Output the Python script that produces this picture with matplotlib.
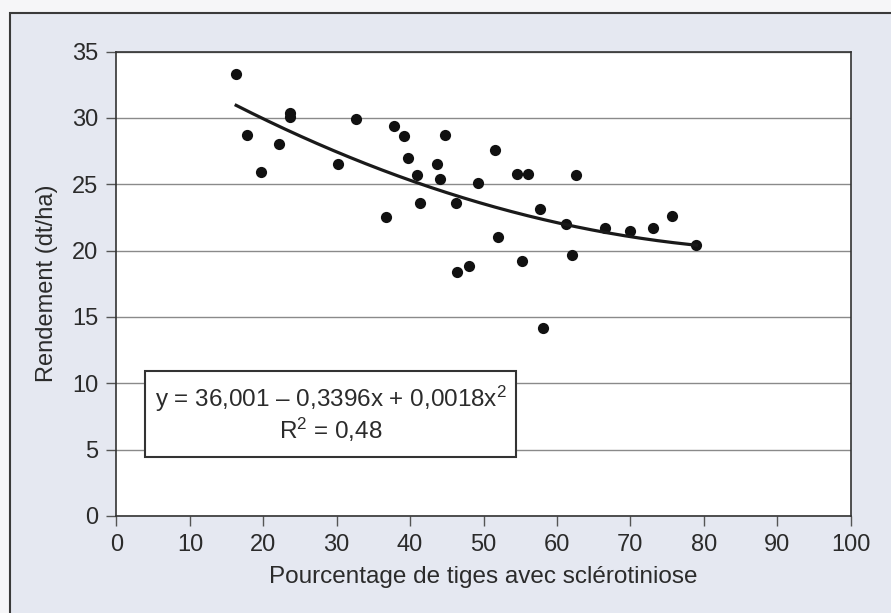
import matplotlib
matplotlib.use("Agg")
import matplotlib.pyplot as plt
import numpy as np
from matplotlib.patches import Rectangle

plt.rcParams['font.family'] = ['Liberation Sans', 'DejaVu Sans']
plt.rcParams['mathtext.fontset'] = 'custom'
plt.rcParams['mathtext.rm'] = 'Liberation Sans'
plt.rcParams['mathtext.it'] = 'Liberation Sans'

# Data
pct_sclero = [16.3, 17.8, 19.7, 22.1, 23.6, 23.7, 30.2, 32.6, 36.7, 37.8,
              39.2, 39.7, 41.0, 41.4, 43.7, 44.1, 44.8, 46.3, 46.4, 48.0,
              49.2, 51.5, 52.0, 54.5, 56.0, 55.2, 57.7, 58.1, 61.2, 62.0,
              62.6, 66.6, 70.0, 73.1, 75.7, 79.0]
rendement = [33.3, 28.7, 25.9, 28.0, 30.4, 30.1, 26.5, 29.9, 22.5, 29.4,
             28.6, 27.0, 25.7, 23.6, 26.5, 25.4, 28.7, 23.6, 18.4, 18.8,
             25.1, 27.6, 21.0, 25.8, 25.8, 19.2, 23.1, 14.2, 22.0, 19.7,
             25.7, 21.7, 21.5, 21.7, 22.6, 20.4]
coef = [36.001, -0.3396, 0.0018]
x_ticks = [0, 10, 20, 30, 40, 50, 60, 70, 80, 90, 100]
y_ticks = [0, 5, 10, 15, 20, 25, 30, 35]
eq_text = "y = 36,001 – 0,3396x + 0,0018x$^\\mathregular{2}$"
r2_text = "R$^\\mathregular{2}$ = 0,48"
x_label = "Pourcentage de tiges avec sclérotiniose"
y_label = "Rendement (dt/ha)"

txt = '#2b2b2b'
fig = plt.figure(figsize=(8.91, 6.13), dpi=100)
fig.patch.set_facecolor('#f6f6f8')
bg = Rectangle((10/891, -0.05), 1.1, 1 - 13/613 + 0.05,
               transform=fig.transFigure, facecolor='#e5e8f1',
               edgecolor='#3a3a3a', linewidth=1.5, zorder=-10)
fig.patches.append(bg)

ax = fig.add_axes([116.5/891, 1 - 516/613, (850.5-116.5)/891, (516-51.5)/613])
ax.set_zorder(5)
ax.set_facecolor('white')
ax.set_xlim(0, 100)
ax.set_ylim(0, 35)
ax.set_xticks(x_ticks)
ax.set_yticks(y_ticks)
ax.tick_params(direction='out', length=7, width=1, color='#555555',
               labelsize=17, labelcolor=txt, pad=6)
ax.yaxis.grid(True, color='#8a8a8a', linewidth=1)
ax.set_axisbelow(True)
for s in ax.spines.values():
    s.set_color('#333333')
    s.set_linewidth(1.2)

ax.scatter(pct_sclero, rendement, s=65, color='#111111', zorder=3, linewidths=0)
xc = np.linspace(min(pct_sclero), max(pct_sclero), 200)
yc = coef[0] + coef[1]*xc + coef[2]*xc**2
ax.plot(xc, yc, color='#1a1a1a', linewidth=2.3, zorder=3)

ax.add_patch(Rectangle((3.95, 4.43), 54.4 - 3.95, 10.93 - 4.43, facecolor='white',
                       edgecolor='#333333', linewidth=1.5, zorder=4))
xm = (3.95 + 54.4) / 2
ax.text(xm, 8.85, eq_text, ha='center', va='center', fontsize=17.5, color=txt, zorder=5)
ax.text(xm, 6.45, r2_text, ha='center', va='center', fontsize=17.5, color=txt, zorder=5)

ax.set_xlabel(x_label, fontsize=17.5, color=txt, labelpad=7)
ax.set_ylabel(y_label, fontsize=17, color=txt, labelpad=10)

fig.savefig("out.png", dpi=100, facecolor=fig.get_facecolor())
